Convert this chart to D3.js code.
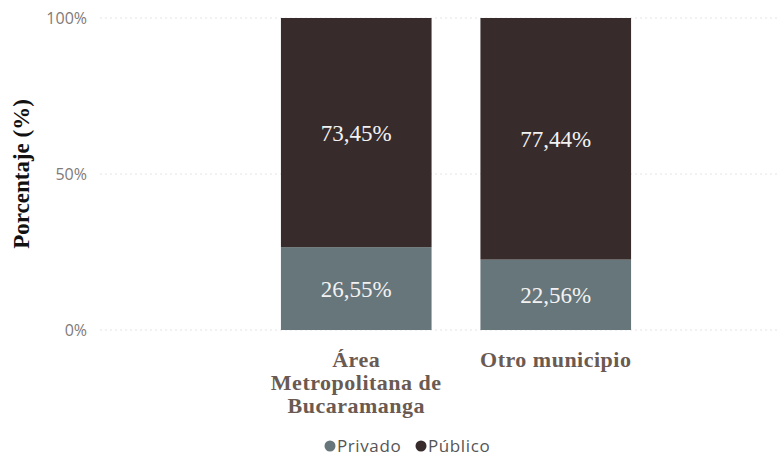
<!DOCTYPE html>
<html>
<head>
<meta charset="utf-8">
<script src="https://cdn.jsdelivr.net/npm/d3@7"></script>
<style>
  body { margin: 0; background: #fff; }
  svg { display: block; }
</style>
</head>
<body>
<svg id="chart" width="781" height="457"></svg>
<script>
// Categories (each label split into its display lines)
const categories = ["Área Metropolitana de Bucaramanga", "Otro municipio"];
const categoryLines = [["Área", "Metropolitana de", "Bucaramanga"], ["Otro municipio"]];
// Series values, percent of each category
const privado = [26.55, 22.56];
const publico = [73.45, 77.44];
const seriesNames = ["Privado", "Público"];
const seriesColors = ["#67767A", "#372B2B"];
const yTicks = [0, 50, 100];

const svg = d3.select("#chart");
const plot = { left: 100, right: 778, top: 18, bottom: 330 };

const x = d3.scaleBand()
  .domain(categories)
  .range([256, 656])
  .paddingInner(0.245)
  .paddingOuter(0.125);

const y = d3.scaleLinear().domain([0, 100]).range([plot.bottom, plot.top]);

// Gridlines
svg.append("g").selectAll("line")
  .data(yTicks)
  .join("line")
  .attr("x1", plot.left).attr("x2", plot.right)
  .attr("y1", d => y(d)).attr("y2", d => y(d))
  .attr("stroke", "#e4e4e4")
  .attr("stroke-width", 1)
  .attr("stroke-dasharray", "2,3");

// Y axis tick labels
const yAxis = d3.axisLeft(y).tickValues(yTicks).tickFormat(d => d + "%").tickSize(0).tickPadding(0);
const yg = svg.append("g").attr("transform", "translate(87,0)").call(yAxis);
yg.select(".domain").remove();
yg.selectAll("text")
  .attr("fill", "#807a78")
  .style("font-family", "'Open Sans', 'Noto Sans', sans-serif")
  .style("font-size", "16px");

// Y axis title
svg.append("text")
  .attr("transform", `translate(29,${(plot.top + plot.bottom) / 2}) rotate(-90)`)
  .attr("text-anchor", "middle")
  .style("font-family", "'Liberation Serif', 'Times New Roman', serif")
  .style("font-weight", "bold")
  .style("font-size", "23px")
  .attr("fill", "#111")
  .text("Porcentaje (%)");

// Stacked bars
const rows = categories.map((c, i) => ({ cat: c, Privado: privado[i], "Público": publico[i] }));
const stacked = d3.stack().keys(seriesNames)(rows);
const fmt = v => d3.format(".2f")(v).replace(".", ",") + "%";

const layers = svg.append("g").selectAll("g")
  .data(stacked)
  .join("g")
  .attr("fill", (d, i) => seriesColors[i]);

layers.selectAll("rect")
  .data(d => d.map(p => ({ p, cat: p.data.cat })))
  .join("rect")
  .attr("x", d => x(d.cat))
  .attr("width", x.bandwidth())
  .attr("y", d => y(d.p[1]))
  .attr("height", d => y(d.p[0]) - y(d.p[1]));

// Value labels
layers.selectAll("text")
  .data(d => d.map(p => ({ p, cat: p.data.cat })))
  .join("text")
  .attr("x", d => x(d.cat) + x.bandwidth() / 2)
  .attr("y", d => (y(d.p[0]) + y(d.p[1])) / 2)
  .attr("dy", "0.35em")
  .attr("text-anchor", "middle")
  .attr("fill", "#f2f2f2")
  .style("font-family", "'Liberation Serif', 'Times New Roman', serif")
  .style("font-size", "23px")
  .text(d => fmt(d.p[1] - d.p[0]));

// Category labels
categories.forEach((c, i) => {
  const t = svg.append("text")
    .attr("text-anchor", "middle")
    .attr("fill", "#6a5a52")
    .style("font-family", "'Liberation Serif', 'Times New Roman', serif")
    .style("font-weight", "bold")
    .style("font-size", "22px")
    .style("letter-spacing", "0.5px");
  categoryLines[i].forEach((line, j) => {
    t.append("tspan")
      .attr("x", x(c) + x.bandwidth() / 2)
      .attr("y", 367 + j * 23)
      .text(line);
  });
});

// Legend
const legendItems = [
  { name: "Privado", color: seriesColors[0], cx: 330 },
  { name: "Público", color: seriesColors[1], cx: 421 }
];
const lg = svg.append("g");
legendItems.forEach(it => {
  lg.append("circle").attr("cx", it.cx).attr("cy", 446).attr("r", 5.5).attr("fill", it.color);
  lg.append("text")
    .attr("x", it.cx + 7).attr("y", 446).attr("dy", "0.35em")
    .attr("fill", "#555")
    .style("font-family", "'Open Sans', 'Noto Sans', sans-serif")
    .style("font-size", "17px")
    .style("letter-spacing", "0.6px")
    .text(it.name);
});
</script>
</body>
</html>
